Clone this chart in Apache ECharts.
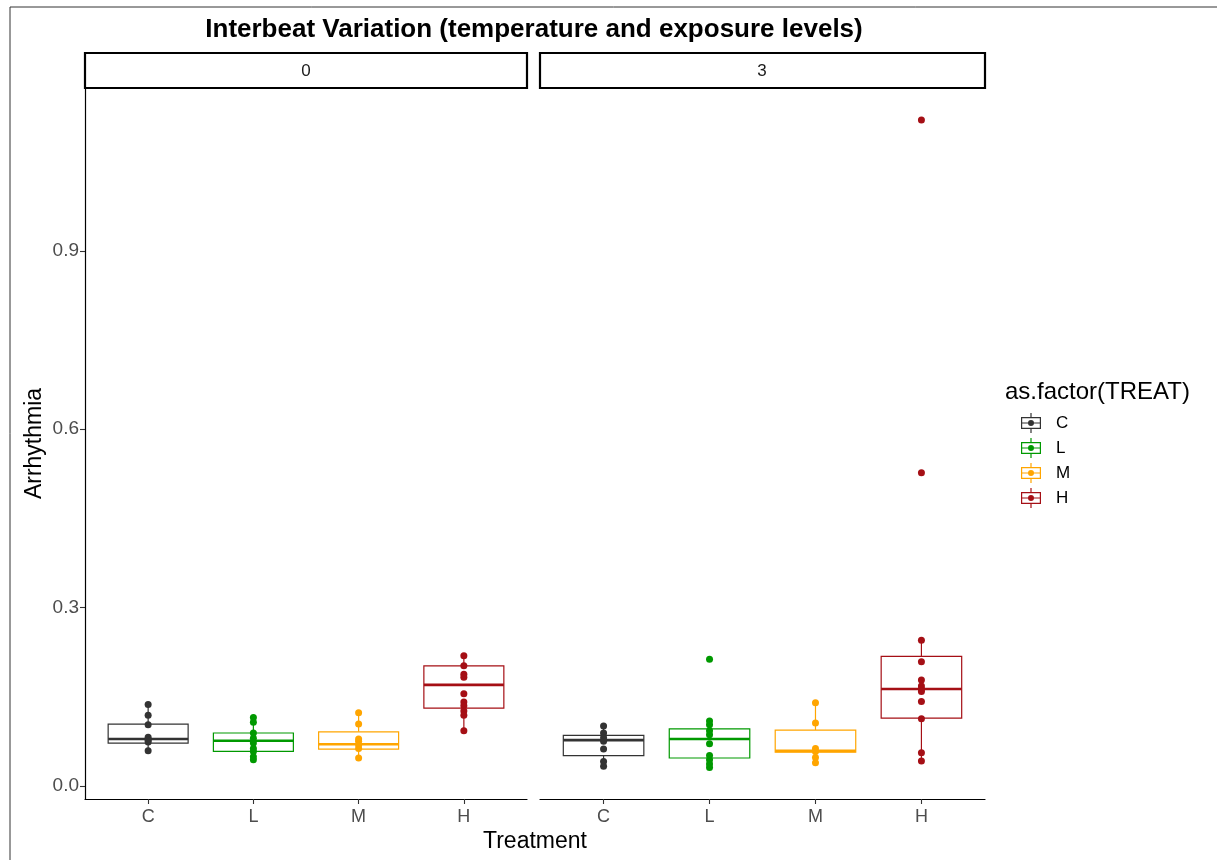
<!DOCTYPE html>
<html>
<head>
<meta charset="utf-8">
<title>Interbeat Variation</title>
<script src="https://cdn.jsdelivr.net/npm/echarts@6/dist/echarts.min.js"></script>
<style>
  html, body { margin: 0; padding: 0; background: #fff; }
  #chart { width: 1217px; height: 860px; }
</style>
</head>
<body>
<div id="chart"></div>
<script>
const treatments = ['C', 'L', 'M', 'H'];
const panels = ['0', '3'];
const colors = ['#333333', '#009900', '#FFA500', '#A50F15'];
const yTicks = [0, 0.3, 0.6, 0.9];

// box stats per treatment: [lower whisker, Q1, median, Q3, upper whisker]
const boxes0 = [
  [0.059, 0.072, 0.079, 0.104, 0.137],
  [0.044, 0.058, 0.076, 0.089, 0.115],
  [0.047, 0.062, 0.070, 0.091, 0.123],
  [0.093, 0.131, 0.170, 0.202, 0.219]
];
const boxes3 = [
  [0.033, 0.051, 0.077, 0.085, 0.101],
  [0.031, 0.047, 0.079, 0.096, 0.109],
  [0.039, 0.057, 0.059, 0.094, 0.140],
  [0.042, 0.114, 0.163, 0.218, 0.245]
];

// single observations
const points0 = [
  [0.137, 0.119, 0.103, 0.082, 0.077, 0.074, 0.059],
  [0.115, 0.107, 0.089, 0.080, 0.072, 0.063, 0.058, 0.049, 0.044],
  [0.123, 0.104, 0.079, 0.075, 0.069, 0.063, 0.047],
  [0.219, 0.202, 0.188, 0.183, 0.155, 0.141, 0.135, 0.126, 0.119, 0.093]
];
const points3 = [
  [0.101, 0.089, 0.081, 0.075, 0.062, 0.041, 0.033],
  [0.213, 0.109, 0.103, 0.093, 0.086, 0.071, 0.051, 0.044, 0.037, 0.031],
  [0.140, 0.106, 0.063, 0.058, 0.048, 0.039],
  [1.120, 0.527, 0.245, 0.209, 0.178, 0.168, 0.163, 0.159, 0.142, 0.113, 0.056, 0.042]
];

const yMin = -0.022;
const yMax = 1.174;
const halfBox = 0.38;
const font = '"Liberation Sans", Arial, sans-serif';

const chart = echarts.init(document.getElementById('chart'));

// box + whiskers, ggplot style (no caps)
function renderBox(params, api) {
  const x = api.value(0);
  const color = api.visual('color');
  const lo = api.coord([x, api.value(1)]);
  const q1 = api.coord([x + halfBox, api.value(2)]);
  const med = api.value(3);
  const q3 = api.coord([x - halfBox, api.value(4)]);
  const hi = api.coord([x, api.value(5)]);
  const mL = api.coord([x - halfBox, med]);
  const mR = api.coord([x + halfBox, med]);
  return {
    type: 'group',
    children: [
      { type: 'line', shape: { x1: hi[0], y1: hi[1], x2: hi[0], y2: q3[1] }, style: { stroke: color, lineWidth: 1.2 } },
      { type: 'line', shape: { x1: lo[0], y1: lo[1], x2: lo[0], y2: q1[1] }, style: { stroke: color, lineWidth: 1.2 } },
      { type: 'rect', shape: { x: q3[0], y: q3[1], width: q1[0] - q3[0], height: q1[1] - q3[1] },
        style: { fill: '#fff', stroke: color, lineWidth: 1.2 } },
      { type: 'line', shape: { x1: mL[0], y1: mL[1], x2: mR[0], y2: mR[1] }, style: { stroke: color, lineWidth: 2.6 } }
    ]
  };
}

const legendIcon = 'path://M9.4 0H10.6V4H9.4Z M9.4 16H10.6V20H9.4Z ' +
  'M0 4H20V16H0Z M1.2 5.2V14.8H18.8V5.2Z M1 9.4H19V10.6H1Z ' +
  'M13 10A3 3 0 1 1 7 10A3 3 0 1 1 13 10Z';

const series = [];
[boxes0, boxes3].forEach((boxes, p) => {
  const pts = p === 0 ? points0 : points3;
  treatments.forEach((t, i) => {
    series.push({
      name: t,
      type: 'custom',
      xAxisIndex: p,
      yAxisIndex: p,
      itemStyle: { color: colors[i] },
      renderItem: renderBox,
      encode: { x: 0, y: [1, 2, 3, 4, 5] },
      data: [[i + 1].concat(boxes[i])],
      z: 2
    });
    series.push({
      name: t,
      type: 'scatter',
      xAxisIndex: p,
      yAxisIndex: p,
      symbolSize: 7,
      itemStyle: { color: colors[i], opacity: 1 },
      data: pts[i].map(v => [i + 1, v]),
      z: 3
    });
  });
});

const grids = [
  { left: 85, top: 88, width: 442, height: 711 },
  { left: 540, top: 88, width: 445, height: 711 }
];

const option = {
  animation: false,
  textStyle: { fontFamily: font },
  grid: grids,
  xAxis: panels.map((_, p) => ({
    type: 'value',
    gridIndex: p,
    min: 0.4,
    max: 4.6,
    axisLine: { show: true, onZero: false, lineStyle: { color: '#000', width: 1.2 } },
    axisTick: { show: true, customValues: [1, 2, 3, 4], length: 5, lineStyle: { color: '#333', width: 1.1 } },
    axisLabel: {
      customValues: [1, 2, 3, 4],
      formatter: v => treatments[Math.round(v) - 1],
      color: '#4d4d4d', fontSize: 18, margin: 9, fontFamily: font
    },
    splitLine: { show: false }
  })),
  yAxis: panels.map((_, p) => ({
    type: 'value',
    gridIndex: p,
    min: yMin,
    max: yMax,
    show: p === 0,
    name: p === 0 ? 'Arrhythmia' : '',
    nameLocation: 'middle',
    nameGap: 39,
    nameTextStyle: { color: '#000', fontSize: 23, fontFamily: font },
    axisLine: { show: true, onZero: false, lineStyle: { color: '#000', width: 1.2 } },
    axisTick: { show: true, customValues: yTicks, length: 5, lineStyle: { color: '#333', width: 1.1 } },
    axisLabel: {
      customValues: yTicks,
      formatter: v => v.toFixed(1),
      color: '#4d4d4d', fontSize: 19, margin: 6, fontFamily: font
    },
    splitLine: { show: false }
  })),
  legend: {
    orient: 'vertical',
    left: 1016,
    top: 408,
    itemWidth: 20,
    itemHeight: 20,
    itemGap: 5,
    data: treatments.map(t => ({ name: t, icon: legendIcon })),
    textStyle: { fontSize: 17, color: '#000', fontFamily: font, padding: [0, 0, 0, 10] }
  },
  graphic: [
    { type: 'line', shape: { x1: 10, y1: 7, x2: 1217, y2: 7 }, style: { stroke: '#333', lineWidth: 1 } },
    { type: 'line', shape: { x1: 10, y1: 7, x2: 10, y2: 860 }, style: { stroke: '#333', lineWidth: 1 } },
    { type: 'text', x: 534, y: 30, style: { text: 'Interbeat Variation (temperature and exposure levels)',
      font: 'bold 26px ' + font, fill: '#000', textAlign: 'center', textVerticalAlign: 'middle' } },
    { type: 'rect', shape: { x: 85, y: 53, width: 442, height: 35 }, style: { fill: '#fff', stroke: '#000', lineWidth: 2.2 } },
    { type: 'text', x: 306, y: 71, style: { text: panels[0], font: '17px ' + font, fill: '#1a1a1a', textAlign: 'center', textVerticalAlign: 'middle' } },
    { type: 'rect', shape: { x: 540, y: 53, width: 445, height: 35 }, style: { fill: '#fff', stroke: '#000', lineWidth: 2.2 } },
    { type: 'text', x: 762, y: 71, style: { text: panels[1], font: '17px ' + font, fill: '#1a1a1a', textAlign: 'center', textVerticalAlign: 'middle' } },
    { type: 'text', x: 535, y: 842, style: { text: 'Treatment', font: '23px ' + font, fill: '#000', textAlign: 'center', textVerticalAlign: 'middle' } },
    { type: 'text', x: 1005, y: 392, style: { text: 'as.factor(TREAT)', font: '24px ' + font, fill: '#000', textAlign: 'left', textVerticalAlign: 'middle' } }
  ],
  series: series
};

chart.setOption(option);
</script>
</body>
</html>
